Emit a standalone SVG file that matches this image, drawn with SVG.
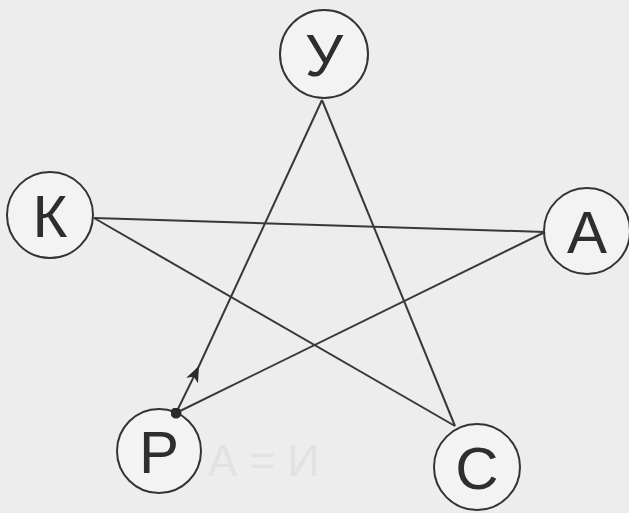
<svg xmlns="http://www.w3.org/2000/svg" width="629" height="513" viewBox="0 0 629 513">
<style>
.bg{fill:#ededed}
.node circle{fill:#f3f3f3;stroke:#333;stroke-width:2}
.node text{font-family:"Liberation Sans",Arial,sans-serif;font-size:60px;fill:#2e2e2e;text-anchor:middle}
.edge{stroke:#383838;stroke-width:2;fill:none}
.faint{font-family:"Liberation Sans",Arial,sans-serif;font-size:44px;fill:#e2e2e2}
</style>
<defs>
<marker id="arrow" viewBox="0 0 16 13" refX="16" refY="6.5" markerWidth="16" markerHeight="13" markerUnits="userSpaceOnUse" orient="auto">
<path d="M0,0 L16,6.5 L0,13 L4,6.5 Z" fill="#2a2a2a"/>
</marker>
<marker id="dot" viewBox="0 0 10 10" refX="5" refY="5" markerWidth="11" markerHeight="11" markerUnits="userSpaceOnUse">
<circle cx="5" cy="5" r="5" fill="#2a2a2a"/>
</marker>
</defs>
<rect class="bg" x="0" y="0" width="629" height="513"/>
<text class="faint" x="208" y="476">А = И</text>
<g id="node-U" class="node"><circle cx="324" cy="54" r="44"/><text x="324" y="76">У</text></g>
<g id="node-K" class="node"><circle cx="50" cy="215" r="43"/><text x="50" y="237">К</text></g>
<g id="node-A" class="node"><circle cx="587" cy="231" r="43"/><text x="587" y="253">А</text></g>
<g id="node-R" class="node"><circle cx="159" cy="451" r="42"/><text x="159" y="473">Р</text></g>
<g id="node-S" class="node"><circle cx="477" cy="467" r="43"/><text x="477" y="489">С</text></g>
<g id="connectors">
<line class="edge" x1="322" y1="100" x2="455" y2="426"/>
<line class="edge" x1="455" y1="426" x2="94" y2="218"/>
<line class="edge" x1="94" y1="218" x2="545" y2="232"/>
<line class="edge" x1="545" y1="232" x2="176" y2="413"/>
<path class="edge" d="M176,413 L199,366 L322,100" marker-start="url(#dot)" marker-mid="url(#arrow)"/>
</g>
</svg>
